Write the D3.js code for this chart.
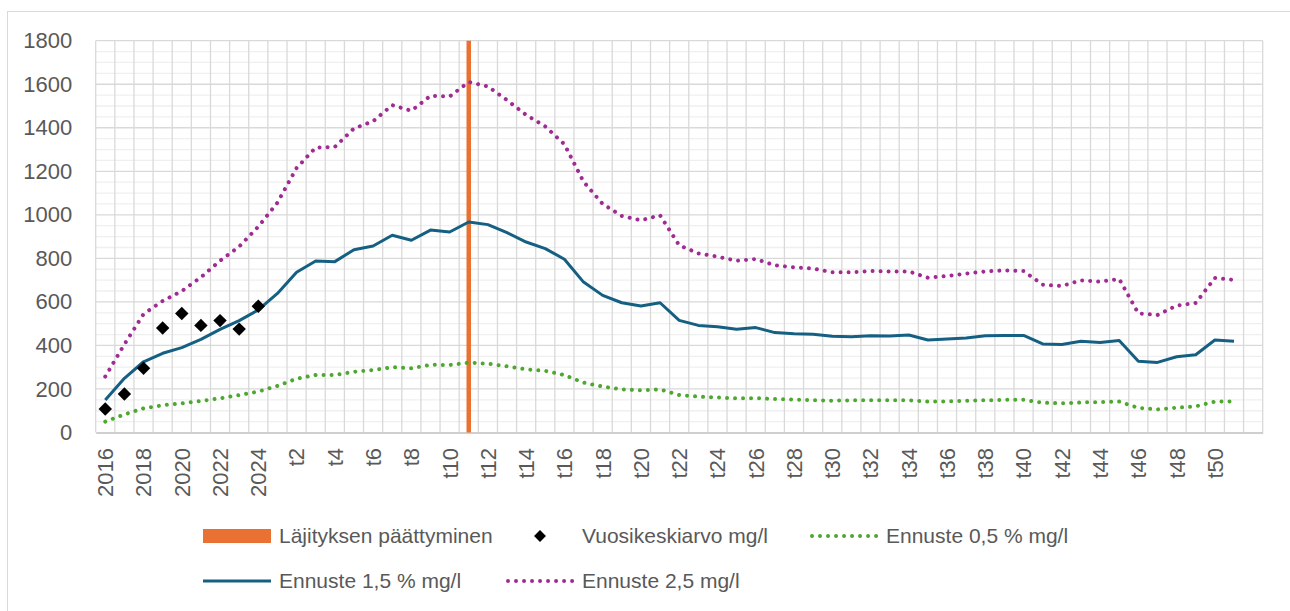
<!DOCTYPE html>
<html>
<head>
<meta charset="utf-8">
<script src="https://cdn.jsdelivr.net/npm/d3@7"></script>
<style>
  body { margin: 0; background: #fff; }
  text { font-family: "Liberation Sans", Arial, sans-serif; fill: #595959; }
</style>
</head>
<body>
<div class="chart"></div>
<script>
// categories: measured years, then forecast steps t1..t51 and one empty slot
var categories = ["2016", "2017", "2018", "2019", "2020", "2021", "2022", "2023", "2024",
  "t1", "t2", "t3", "t4", "t5", "t6", "t7", "t8", "t9", "t10",
  "t11", "t12", "t13", "t14", "t15", "t16", "t17", "t18", "t19", "t20",
  "t21", "t22", "t23", "t24", "t25", "t26", "t27", "t28", "t29", "t30",
  "t31", "t32", "t33", "t34", "t35", "t36", "t37", "t38", "t39", "t40",
  "t41", "t42", "t43", "t44", "t45", "t46", "t47", "t48", "t49", "t50",
  "t51", ""];

var yTicks = [0, 200, 400, 600, 800, 1000, 1200, 1400, 1600, 1800];

// end of dredging marker
var lajitysEnd = "t11";

// annual mean, mg/l
var vuosikeskiarvo = [108, 177, 295, 480, 547, 492, 514, 475, 580];

// forecasts, one value per category from 2016 to t51
var ennuste05 = [50, 83, 111, 125, 134, 145, 157, 172, 188,
  214, 247, 264, 264, 279, 287, 300, 295, 311, 310,
  321, 316, 304, 290, 283, 264, 229, 211, 198, 194,
  198, 172, 165, 161, 157, 158, 154, 151, 149, 146,
  148, 148, 148, 148, 142, 143, 146, 148, 150, 150,
  137, 134, 138, 140, 142, 113, 106, 114, 120, 142,
  142];

var ennuste15 = [149, 249, 325, 364, 390, 428, 474, 514, 563,
  639, 736, 788, 785, 840, 857, 906, 883, 930, 921,
  967, 955, 918, 875, 845, 796, 691, 630, 596, 581,
  596, 515, 492, 486, 474, 482, 459, 454, 451, 442,
  440, 445, 443, 448, 425, 430, 434, 445, 446, 446,
  407, 404, 419, 413, 423, 327, 322, 348, 357, 425,
  419];

var ennuste25 = [257, 405, 544, 604, 650, 713, 789, 854, 946,
  1056, 1215, 1309, 1312, 1397, 1430, 1504, 1478, 1547, 1544,
  1610, 1590, 1527, 1459, 1406, 1324, 1152, 1050, 995, 975,
  998, 860, 823, 808, 789, 797, 768, 759, 753, 736,
  736, 742, 740, 740, 711, 719, 730, 740, 745, 742,
  679, 673, 699, 693, 705, 547, 540, 583, 595, 710,
  701];

var width = 1290, height = 611;

var svg = d3.select(".chart").append("svg")
  .attr("width", width)
  .attr("height", height);

// outer chart frame, runs past the screenshot edge
svg.append("rect")
  .attr("x", 7.5).attr("y", 11.5)
  .attr("width", 1400).attr("height", 700)
  .attr("fill", "none")
  .attr("stroke", "#d9d9d9")
  .attr("stroke-width", 1);

var x = d3.scaleBand()
  .domain(categories)
  .range([95.7, 1262.7])
  .padding(0);

var y = d3.scaleLinear()
  .domain([0, 1800])
  .range([432.5, 40.7]);

function cx(c) { return x(c) + x.bandwidth() / 2; }

var grid = svg.append("g");

// minor horizontal grid every 50
grid.selectAll("line.minor")
  .data(d3.range(0, 1801, 50).filter(function(v){ return v % 200 != 0; }))
  .enter().append("line")
  .attr("class", "minor")
  .attr("x1", x.range()[0]).attr("x2", x.range()[1])
  .attr("y1", function(d){ return y(d); })
  .attr("y2", function(d){ return y(d); })
  .attr("stroke", "#efefef")
  .attr("stroke-width", 1.3);

// major horizontal grid
grid.selectAll("line.major")
  .data(yTicks.slice(1))
  .enter().append("line")
  .attr("class", "major")
  .attr("x1", x.range()[0]).attr("x2", x.range()[1])
  .attr("y1", function(d){ return y(d); })
  .attr("y2", function(d){ return y(d); })
  .attr("stroke", "#d9d9d9")
  .attr("stroke-width", 1.3);

// vertical grid on category borders
var borders = categories.map(function(c){ return x(c); }).concat([x.range()[1]]);
grid.selectAll("line.vert")
  .data(borders)
  .enter().append("line")
  .attr("class", "vert")
  .attr("x1", function(d){ return d; })
  .attr("x2", function(d){ return d; })
  .attr("y1", y(1800)).attr("y2", y(0))
  .attr("stroke", "#d9d9d9")
  .attr("stroke-width", 1.3);

// y axis labels
var yAxis = svg.append("g")
  .attr("transform", "translate(" + x.range()[0] + ",0)")
  .call(d3.axisLeft(y).tickValues(yTicks).tickFormat(d3.format("d")).tickSize(0).tickPadding(23.5));
yAxis.select(".domain").remove();
yAxis.selectAll("text")
  .style("font-size", "22px")
  .attr("fill", "#595959");

// x axis, every other label, rotated
var xAxis = svg.append("g")
  .attr("transform", "translate(0," + y(0) + ")")
  .call(d3.axisBottom(x).tickSize(0).tickFormat(function(d, i){ return i % 2 == 0 ? d : ""; }));
xAxis.select(".domain")
  .attr("stroke", "#bfbfbf")
  .attr("stroke-width", 1.5);
xAxis.selectAll("text")
  .style("font-size", "22px")
  .attr("fill", "#595959")
  .attr("transform", "rotate(-90)")
  .attr("x", -15.5)
  .attr("y", 0)
  .attr("dy", "0.36em")
  .attr("text-anchor", "end");

// end of dredging
svg.append("line")
  .attr("x1", cx(lajitysEnd)).attr("x2", cx(lajitysEnd))
  .attr("y1", y(1800)).attr("y2", y(0))
  .attr("stroke", "#E97132")
  .attr("stroke-width", 4.5);

var line = d3.line()
  .x(function(d, i){ return cx(categories[i]); })
  .y(function(d){ return y(d); });

var dots = "0.01 8";

svg.append("path")
  .attr("d", line(ennuste05))
  .attr("fill", "none")
  .attr("stroke", "#4EA72E")
  .attr("stroke-width", 4)
  .attr("stroke-linecap", "round")
  .attr("stroke-dasharray", dots);

svg.append("path")
  .attr("d", line(ennuste25))
  .attr("fill", "none")
  .attr("stroke", "#A02B93")
  .attr("stroke-width", 4)
  .attr("stroke-linecap", "round")
  .attr("stroke-dasharray", dots);

svg.append("path")
  .attr("d", line(ennuste15))
  .attr("fill", "none")
  .attr("stroke", "#156082")
  .attr("stroke-width", 3)
  .attr("stroke-linejoin", "round");

var diamond = d3.symbol().type(d3.symbolDiamond2 || d3.symbolDiamond).size(115);

svg.selectAll("path.mean")
  .data(vuosikeskiarvo)
  .enter().append("path")
  .attr("class", "mean")
  .attr("d", diamond)
  .attr("transform", function(d, i){ return "translate(" + cx(categories[i]) + "," + y(d) + ")"; })
  .attr("fill", "#000");

// legend
var legend = svg.append("g");
var col = [203, 506, 810], row = [536, 581], symW = 68;

function legendText(cx0, cy, label){
  legend.append("text")
    .attr("x", cx0 + symW + 8)
    .attr("y", cy)
    .attr("dy", "0.35em")
    .style("font-size", "21px")
    .text(label);
}

legend.append("rect")
  .attr("x", col[0]).attr("y", row[0] - 7)
  .attr("width", symW).attr("height", 14)
  .attr("fill", "#E97132");
legendText(col[0], row[0], "Läjityksen päättyminen");

legend.append("path")
  .attr("d", d3.symbol().type(d3.symbolDiamond2 || d3.symbolDiamond).size(90)())
  .attr("transform", "translate(" + (col[1] + symW / 2) + "," + row[0] + ")")
  .attr("fill", "#000");
legendText(col[1], row[0], "Vuosikeskiarvo mg/l");

legend.append("line")
  .attr("x1", col[2] + 2).attr("x2", col[2] + symW)
  .attr("y1", row[0]).attr("y2", row[0])
  .attr("stroke", "#4EA72E").attr("stroke-width", 4)
  .attr("stroke-linecap", "round").attr("stroke-dasharray", dots);
legendText(col[2], row[0], "Ennuste 0,5 % mg/l");

legend.append("line")
  .attr("x1", col[0]).attr("x2", col[0] + symW)
  .attr("y1", row[1]).attr("y2", row[1])
  .attr("stroke", "#156082").attr("stroke-width", 3);
legendText(col[0], row[1], "Ennuste 1,5 % mg/l");

legend.append("line")
  .attr("x1", col[1] + 2).attr("x2", col[1] + symW)
  .attr("y1", row[1]).attr("y2", row[1])
  .attr("stroke", "#A02B93").attr("stroke-width", 4)
  .attr("stroke-linecap", "round").attr("stroke-dasharray", dots);
legendText(col[1], row[1], "Ennuste 2,5 mg/l");
</script>
</body>
</html>
